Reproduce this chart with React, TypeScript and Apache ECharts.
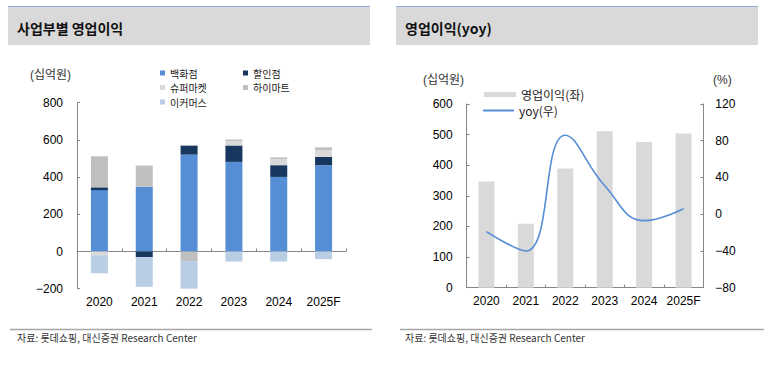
import React, { useEffect, useRef } from "react";
import * as echarts from "echarts";

const categories = ["2020", "2021", "2022", "2023", "2024", "2025F"];

// Left chart: operating profit by division (십억원)
const deptStore = [330, 348, 521, 482, 401, 464];
const discountStore = [15, -30, 49, 88, 63, 45];
const superMarket = [-20, 0, 3, 23, 33, 36];
const himart = [167, 114, -52, 9, 9, 15];
const eCommerce = [-97, -160, -156, -54, -54, -41];

// Right chart
const opProfit = [347, 209, 389, 511, 476, 504];
const yoy = [-19, -40, 86, 31, -7, 6];

const leftYTicks = { min: -200, max: 800, interval: 200 };
const rightYTicks = { min: 0, max: 600, interval: 100 };
const yoyTicks = { min: -80, max: 120, interval: 40 };

const NUM_FONT = "'Liberation Sans', Arial, 'Noto Sans CJK KR', sans-serif";
const KR_FONT = "'Noto Sans CJK KR', 'Liberation Sans', sans-serif";
const AXIS_COLOR = "#868686";

export default function App() {
  const ref = useRef<HTMLDivElement>(null);

  useEffect(() => {
    if (!ref.current) return;
    const chart = echarts.init(ref.current, undefined, { renderer: "svg" });

    const smallLegend = (name: string, left: number, top: number) => ({
      data: [name],
      left,
      top,
      padding: 0,
      icon: "rect",
      itemWidth: 5,
      itemHeight: 5,
      textStyle: { fontFamily: KR_FONT, fontSize: 10, color: "#222", lineHeight: 11 },
      selectedMode: false,
    });

    const option: any = {
      animation: false,
      backgroundColor: "#fff",
      grid: [
        { left: 77, right: 778 - 346, top: 102.7, bottom: 372 - 288.7 },
        { left: 466.7, right: 778 - 703.3, top: 104, bottom: 372 - 287.7 },
      ],
      legend: [
        smallLegend("백화점", 160, 67.5),
        smallLegend("할인점", 243, 67.5),
        smallLegend("슈퍼마켓", 160, 82),
        smallLegend("하이마트", 243, 82),
        smallLegend("이커머스", 160, 96.5),
        {
          data: ["영업이익(좌)"],
          left: 484,
          top: 88,
          padding: 0,
          icon: "rect",
          itemWidth: 32,
          itemHeight: 5,
          selectedMode: false,
          textStyle: { fontFamily: KR_FONT, fontSize: 12, color: "#222", lineHeight: 13 },
        },
        {
          data: [{ name: "yoy(우)", icon: "rect" }],
          left: 483,
          top: 104,
          padding: 0,
          itemWidth: 31,
          itemHeight: 2,
          selectedMode: false,
          textStyle: { fontFamily: KR_FONT, fontSize: 12, color: "#222", lineHeight: 13 },
        },
      ],
      xAxis: [
        {
          type: "category",
          gridIndex: 0,
          data: categories,
          position: "bottom",
          axisLine: { show: false, onZero: false },
          axisTick: { show: false },
          axisLabel: { fontFamily: NUM_FONT, fontSize: 12, color: "#000", margin: 7, interval: 0 },
        },
        {
          type: "category",
          gridIndex: 0,
          data: categories,
          position: "bottom",
          axisLine: { show: true, onZero: true, lineStyle: { color: AXIS_COLOR, width: 1 } },
          axisTick: { show: true, inside: true, length: 3, interval: 0, lineStyle: { color: AXIS_COLOR } },
          axisLabel: { show: false },
        },
        {
          type: "category",
          gridIndex: 1,
          data: categories,
          axisLine: { show: true, lineStyle: { color: AXIS_COLOR, width: 1 } },
          axisTick: { show: true, inside: true, length: 3, interval: 0, lineStyle: { color: AXIS_COLOR } },
          axisLabel: { fontFamily: NUM_FONT, fontSize: 12, color: "#000", margin: 7, interval: 0 },
        },
      ],
      yAxis: [
        {
          type: "value",
          gridIndex: 0,
          ...leftYTicks,
          splitLine: { show: false },
          axisLine: { show: true, lineStyle: { color: AXIS_COLOR, width: 1 } },
          axisTick: { show: true, inside: true, length: 3, lineStyle: { color: AXIS_COLOR } },
          axisLabel: {
            fontFamily: NUM_FONT,
            fontSize: 12,
            color: "#000",
            margin: 14,
            formatter: (v: number) => (v < 0 ? "\u2212" + Math.abs(v) : String(v)),
          },
        },
        {
          type: "value",
          gridIndex: 1,
          ...rightYTicks,
          splitLine: { show: false },
          axisLine: { show: true, lineStyle: { color: AXIS_COLOR, width: 1 } },
          axisTick: { show: true, inside: true, length: 3, lineStyle: { color: AXIS_COLOR } },
          axisLabel: { fontFamily: NUM_FONT, fontSize: 12, color: "#000", margin: 14 },
        },
        {
          type: "value",
          gridIndex: 1,
          position: "right",
          ...yoyTicks,
          splitLine: { show: false },
          axisLine: { show: true, lineStyle: { color: AXIS_COLOR, width: 1 } },
          axisTick: { show: true, inside: true, length: 3, lineStyle: { color: AXIS_COLOR } },
          axisLabel: {
            fontFamily: NUM_FONT,
            fontSize: 12,
            color: "#000",
            margin: 12,
            formatter: (v: number) => (v < 0 ? "\u2212" + Math.abs(v) : String(v)),
          },
        },
      ],
      series: [
        { name: "백화점", type: "bar", stack: "seg", xAxisIndex: 0, yAxisIndex: 0, barWidth: 17, data: deptStore, itemStyle: { color: "#558ed5" } },
        { name: "할인점", type: "bar", stack: "seg", xAxisIndex: 0, yAxisIndex: 0, barWidth: 17, data: discountStore, itemStyle: { color: "#17375e" } },
        { name: "슈퍼마켓", type: "bar", stack: "seg", xAxisIndex: 0, yAxisIndex: 0, barWidth: 17, data: superMarket, itemStyle: { color: "#d9d9d9" } },
        { name: "하이마트", type: "bar", stack: "seg", xAxisIndex: 0, yAxisIndex: 0, barWidth: 17, data: himart, itemStyle: { color: "#bfbfbf" } },
        { name: "이커머스", type: "bar", stack: "seg", xAxisIndex: 0, yAxisIndex: 0, barWidth: 17, data: eCommerce, itemStyle: { color: "#b9cde5" } },
        { name: "영업이익(좌)", type: "bar", xAxisIndex: 2, yAxisIndex: 1, barWidth: 16, data: opProfit, itemStyle: { color: "#d9d9d9" } },
        {
          name: "yoy(우)",
          type: "line",
          xAxisIndex: 2,
          yAxisIndex: 2,
          data: yoy,
          smooth: 0.45,
          symbol: "none",
          itemStyle: { color: "#558ed5" },
          lineStyle: { color: "#558ed5", width: 1.6 },
        },
      ],
      graphic: [
        // Title bars
        { type: "rect", shape: { x: 8, y: 7, width: 362, height: 38 }, style: { fill: "#d9d9d9" }, silent: true },
        { type: "line", shape: { x1: 8, y1: 6.5, x2: 370, y2: 6.5 }, style: { stroke: "#8eaadb", lineWidth: 1.2 }, silent: true },
        { type: "rect", shape: { x: 396, y: 7, width: 362, height: 38 }, style: { fill: "#d9d9d9" }, silent: true },
        { type: "line", shape: { x1: 396, y1: 6.5, x2: 758, y2: 6.5 }, style: { stroke: "#8eaadb", lineWidth: 1.2 }, silent: true },
        {
          type: "text",
          x: 17,
          y: 27.5,
          style: { text: "사업부별 영업이익", fontFamily: KR_FONT, fontSize: 14, fontWeight: "bold", fill: "#111", verticalAlign: "middle" },
        },
        {
          type: "text",
          x: 405,
          y: 27.5,
          style: { text: "영업이익(yoy)", fontFamily: KR_FONT, fontSize: 14, fontWeight: "bold", fill: "#111", verticalAlign: "middle" },
        },
        // Unit labels
        {
          type: "text",
          x: 30,
          y: 75,
          style: { text: "(십억원)", fontFamily: NUM_FONT, fontSize: 12, fill: "#333", verticalAlign: "middle" },
        },
        {
          type: "text",
          x: 423,
          y: 80,
          style: { text: "(십억원)", fontFamily: NUM_FONT, fontSize: 12, fill: "#333", verticalAlign: "middle" },
        },
        {
          type: "text",
          x: 713,
          y: 80,
          style: { text: "(%)", fontFamily: NUM_FONT, fontSize: 12, fill: "#333", verticalAlign: "middle" },
        },
        // Footer lines and source
        { type: "line", shape: { x1: 10, y1: 329.5, x2: 372, y2: 329.5 }, style: { stroke: "#a6a6a6", lineWidth: 1.5 }, silent: true },
        { type: "line", shape: { x1: 400, y1: 329.5, x2: 764, y2: 329.5 }, style: { stroke: "#a6a6a6", lineWidth: 1.5 }, silent: true },
        {
          type: "text",
          x: 17,
          y: 337.5,
          style: { text: "자료: 롯데쇼핑, 대신증권 Research Center", fontFamily: KR_FONT, fontSize: 10, fill: "#333", verticalAlign: "middle" },
        },
        {
          type: "text",
          x: 405,
          y: 337.5,
          style: { text: "자료: 롯데쇼핑, 대신증권 Research Center", fontFamily: KR_FONT, fontSize: 10, fill: "#333", verticalAlign: "middle" },
        },
      ],
    };

    chart.setOption(option);
    return () => chart.dispose();
  }, []);

  return (
    <div
      ref={ref}
      style={{ position: "fixed", left: 0, top: 0, width: 778, height: 372, background: "#fff" }}
    />
  );
}
